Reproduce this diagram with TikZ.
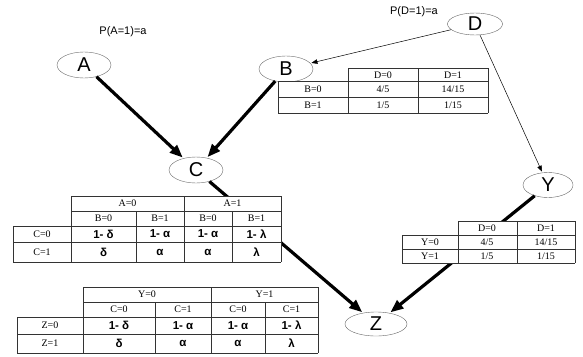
\documentclass[tikz,border=0pt]{standalone}
\usepackage{fontspec}
\setmainfont{Liberation Serif}
\setsansfont{Liberation Sans}
\usetikzlibrary{shapes.geometric,arrows.meta}

\begin{document}
\begin{tikzpicture}[
		x=1pt, y=-1pt,
		var/.style = {
			shape=ellipse, draw=black!60, line width=0.4pt,
			minimum width=54pt, minimum height=26pt, inner sep=0pt,
			font=\sffamily\fontsize{20}{20}\selectfont},
		prior/.style = {font=\sffamily\fontsize{11}{11}\selectfont},
		strong/.style = {line width=3.2pt,
			-{Triangle[length=13pt,width=10pt]}, shorten >=1pt},
		weak/.style = {line width=0.5pt,
			-{Triangle[length=6pt,width=4.5pt]}, shorten >=1pt},
		cell/.style = {font=\fontsize{10}{10}\selectfont, inner sep=0pt},
		bcell/.style = {font=\sffamily\bfseries\fontsize{11.5}{11.5}\selectfont, inner sep=0pt},
		grid/.style = {draw=black!80, line width=0.6pt}]

	\useasboundingbox (0,0) rectangle (583,356);

	% variables
	\node[var] (A) at (84,65) {A};
	\node[var] (B) at (286,69) {B};
	\node[var, minimum width=55pt, minimum height=22pt] (D) at (475,24) {D};
	\node[var] (C) at (196,170) {C};
	\node[var, minimum width=50pt, minimum height=25pt] (Y) at (548,185) {Y};
	\node[var, minimum width=62pt, minimum height=24pt] (Z) at (376,324) {Z};

	\node[prior] (pA) at (123,32) {P(A=1)=a};
	\node[prior] (pD) at (414,12) {P(D=1)=a};

	% edges
	\draw[weak] (D) -- (B);
	\draw[weak] (D) -- (Y);
	\draw[strong] (A) -- (C);
	\draw[strong] (B) -- (C);
	\draw[strong] (C) -- (Z);
	\draw[strong] (Y) -- (Z);

	% table for B
	\fill[white] (348,68) rectangle (488,81) (278,81) rectangle (488,113);
	\draw[grid] (348,68) -- (488,68) (278,81) -- (488,81)
		(278,97) -- (488,97) (278,113) -- (488,113)
		(278,81) -- (278,113) (348,68) -- (348,113)
		(418,68) -- (418,113) (488,68) -- (488,113);
	\node[cell] (tBd0) at (383,75) {D=0};
	\node[cell] (tBd1) at (453,75) {D=1};
	\node[cell] (tBr0) at (313,89) {B=0};
	\node[cell] (tBr1) at (313,105) {B=1};
	\node[cell] (tBa) at (383,89) {4/5};
	\node[cell] (tBb) at (453,89) {14/15};
	\node[cell] (tBc) at (383,105) {1/5};
	\node[cell] (tBd) at (453,105) {1/15};

	% table for Y
	\fill[white] (458,221) rectangle (575,235) (402,235) rectangle (575,263);
	\draw[grid] (458,221) -- (575,221) (402,235) -- (575,235)
		(402,249) -- (575,249) (402,263) -- (575,263)
		(402,235) -- (402,263) (458,221) -- (458,263)
		(517,221) -- (517,263) (575,221) -- (575,263);
	\node[cell] (tYd0) at (487,228) {D=0};
	\node[cell] (tYd1) at (546,228) {D=1};
	\node[cell] (tYr0) at (430,242) {Y=0};
	\node[cell] (tYr1) at (430,256) {Y=1};
	\node[cell] (tYa) at (487,242) {4/5};
	\node[cell] (tYb) at (546,242) {14/15};
	\node[cell] (tYc) at (487,256) {1/5};
	\node[cell] (tYd) at (546,256) {1/15};

	% table for C
	\fill[white] (71,196) rectangle (281,226) (13,226) rectangle (281,262);
	\draw[grid] (71,196) -- (281,196) (71,211) -- (281,211)
		(13,226) -- (281,226) (13,242) -- (281,242) (13,262) -- (281,262)
		(13,226) -- (13,262) (71,196) -- (71,262)
		(136,211) -- (136,262) (184,196) -- (184,262)
		(232,211) -- (232,262) (281,196) -- (281,262);
	\node[cell] (tCa0) at (127.5,203.5) {A=0};
	\node[cell] (tCa1) at (232.5,203.5) {A=1};
	\foreach \x/\v [count=\i] in {103.5/0, 160/1, 208/0, 256.5/1}
		\node[cell] (tCb\i) at (\x,218.5) {B=\v};
	\node[cell] (tCr0) at (42,234) {C=0};
	\node[cell] (tCr1) at (42,252) {C=1};
	\foreach \x/\p [count=\i] in {103.5/δ, 160/α, 208/α, 256.5/λ} {
		\node[bcell] (tCu\i) at (\x,234) {1- \p};
		\node[bcell] (tCl\i) at (\x,252) {\p};
	}

	% table for Z
	\fill[white] (83,287) rectangle (318,317) (17,317) rectangle (318,353);
	\draw[grid] (83,287) -- (318,287) (83,302) -- (318,302)
		(17,317) -- (318,317) (17,334) -- (318,334) (17,353) -- (318,353)
		(17,317) -- (17,353) (83,287) -- (83,353)
		(155,302) -- (155,353) (211,287) -- (211,353)
		(265,302) -- (265,353) (318,287) -- (318,353);
	\node[cell] (tZy0) at (147,294.5) {Y=0};
	\node[cell] (tZy1) at (264.5,294.5) {Y=1};
	\foreach \x/\v [count=\i] in {119/0, 183/1, 238/0, 291.5/1}
		\node[cell] (tZc\i) at (\x,309.5) {C=\v};
	\node[cell] (tZr0) at (50,325.5) {Z=0};
	\node[cell] (tZr1) at (50,343.5) {Z=1};
	\foreach \x/\p [count=\i] in {119/δ, 183/α, 238/α, 291.5/λ} {
		\node[bcell] (tZu\i) at (\x,325.5) {1- \p};
		\node[bcell] (tZl\i) at (\x,343.5) {\p};
	}
\end{tikzpicture}
\end{document}
